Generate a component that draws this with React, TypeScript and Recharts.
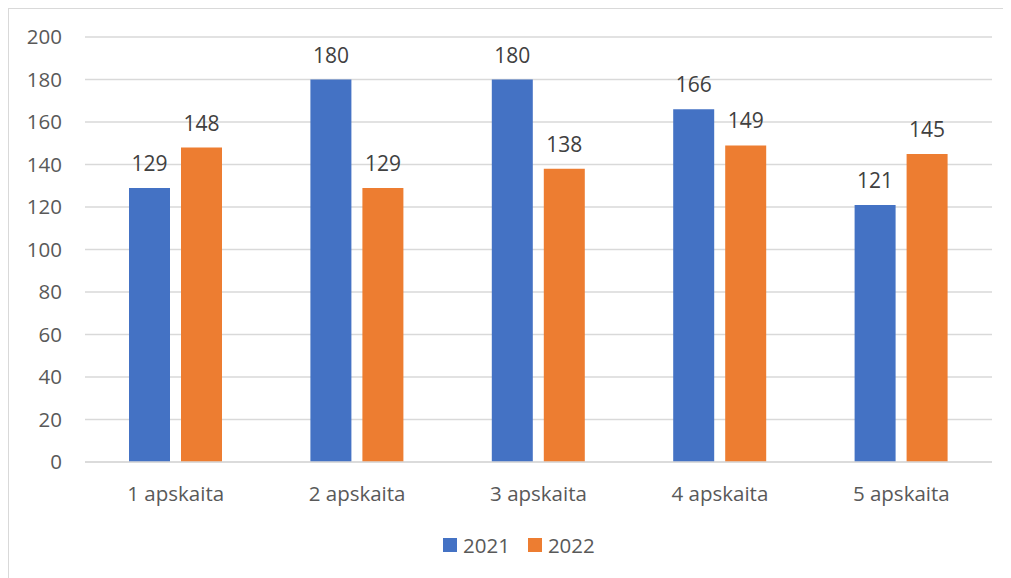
import React from 'react';
import { BarChart, Bar, XAxis, YAxis, CartesianGrid, Legend, LabelList } from 'recharts';

const categories = ['1 apskaita', '2 apskaita', '3 apskaita', '4 apskaita', '5 apskaita'];
const values2021 = [129, 180, 180, 166, 121];
const values2022 = [148, 129, 138, 149, 145];
const yTicks = [0, 20, 40, 60, 80, 100, 120, 140, 160, 180, 200];

const data = categories.map((name, i) => ({
  name,
  y2021: values2021[i],
  y2022: values2022[i],
}));

const FONT = "'Open Sans', 'Liberation Sans', sans-serif";
const TEXT = '#595959';
const BLUE = '#4472C4';
const ORANGE = '#ED7D31';
const GRID = '#D9D9D9';

const series = [
  { key: 'y2021', label: '2021', color: BLUE },
  { key: 'y2022', label: '2022', color: ORANGE },
];

function LegendContent() {
  return (
    <div style={{ display: 'flex', alignItems: 'center', fontFamily: FONT, fontSize: 20.5, color: TEXT, lineHeight: '20px' }}>
      {series.map((s, i) => (
        <div key={s.key} style={{ display: 'flex', alignItems: 'center', marginRight: i === 0 ? 18 : 0 }}>
          <span style={{ width: 14, height: 14, background: s.color, display: 'inline-block', marginRight: 6 }} />
          <span>{s.label}</span>
        </div>
      ))}
    </div>
  );
}

export default function App() {
  return (
    <div
      style={{
        width: 1011,
        height: 578,
        borderLeft: `1px solid ${GRID}`,
        borderTop: `1px solid ${GRID}`,
        background: '#fff',
        boxSizing: 'border-box',
      }}
    >
      <BarChart
        width={1003}
        height={570}
        data={data}
        margin={{ top: 28, right: 20, bottom: 93, left: 0 }}
        barSize={41}
        barGap={11}
      >
        <CartesianGrid vertical={false} stroke={GRID} strokeWidth={1.5} />
        <XAxis
          dataKey="name"
          axisLine={{ stroke: GRID, strokeWidth: 1.5 }}
          tickLine={false}
          tickSize={6}
          tickMargin={18}
          height={24}
          tick={{ fill: TEXT, fontSize: 20.5, fontFamily: FONT }}
        />
        <YAxis
          domain={[0, 200]}
          ticks={yTicks}
          interval={0}
          width={76}
          axisLine={false}
          tickLine={false}
          tickSize={6}
          tickMargin={17}
          tick={{ fill: TEXT, fontSize: 20.5, fontFamily: FONT }}
        />
        <Legend
          layout="horizontal"
          verticalAlign="middle"
          align="center"
          content={<LegendContent />}
          wrapperStyle={{ left: 434, top: 526, width: 'auto' }}
        />
        {series.map((s) => (
          <Bar key={s.key} dataKey={s.key} name={s.label} fill={s.color} isAnimationActive={false}>
            <LabelList
              dataKey={s.key}
              position="top"
              offset={17}
              style={{ fill: '#404040', fontSize: 21, fontFamily: FONT }}
            />
          </Bar>
        ))}
      </BarChart>
    </div>
  );
}
